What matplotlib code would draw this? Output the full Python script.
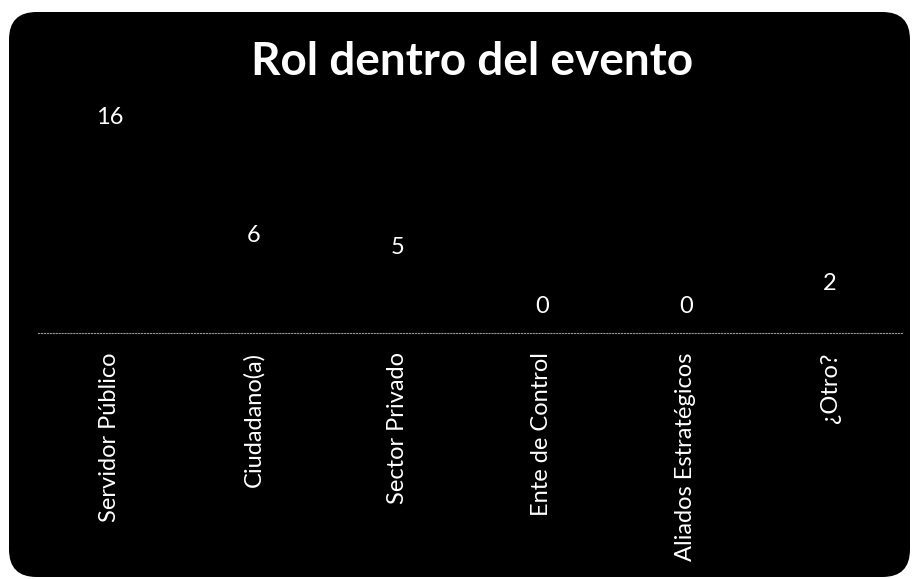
import matplotlib.pyplot as plt
from matplotlib.patches import FancyBboxPatch

categories = ['Servidor Público', 'Ciudadano(a)', 'Sector Privado',
              'Ente de Control', 'Aliados Estratégicos', '¿Otro?']
values = [16, 6, 5, 0, 0, 2]

plt.rcParams['font.family'] = ['Lato', 'DejaVu Sans']

W, H = 917, 579
fig = plt.figure(figsize=(W / 100, H / 100), dpi=100)
fig.patch.set_facecolor('white')

# rounded black panel behind everything
panel = FancyBboxPatch((9 / W, 2 / H), 901 / W, 565 / H,
                       boxstyle='round,pad=0,rounding_size=0.03',
                       transform=fig.transFigure, facecolor='black',
                       edgecolor='none', mutation_aspect=W / H, zorder=0)
fig.patches.append(panel)

ax = fig.add_axes([38 / W, 246 / H, 864 / W, 236 / H])
ax.set_facecolor('none')
ax.set_zorder(2)

x = range(len(categories))
ax.bar(x, values, width=0.6, color='black')
for i, v in zip(x, values):
    ax.annotate(str(v), (i, v), xytext=(0, 19), textcoords='offset points',
                ha='center', va='center', color='white', fontsize=17)

ax.set_xlim(-0.5, len(categories) - 0.5)
ax.set_ylim(0, 20)
ax.set_yticks([])
ax.set_xticks(list(x))
ax.set_xticklabels(categories, rotation=90, color='white', fontsize=17,
                   va='top', ha='center')
ax.tick_params(axis='x', length=0, pad=14)
for s in ['top', 'left', 'right']:
    ax.spines[s].set_visible(False)
ax.spines['bottom'].set_color('#999999')
ax.spines['bottom'].set_linestyle(':')
ax.spines['bottom'].set_linewidth(0.8)

fig.text(472 / W, 1 - 62 / H, 'Rol dentro del evento', ha='center', va='center',
         color='white', fontsize=33, fontweight='bold', zorder=3)

fig.savefig('out.png', dpi=100, facecolor='white')
